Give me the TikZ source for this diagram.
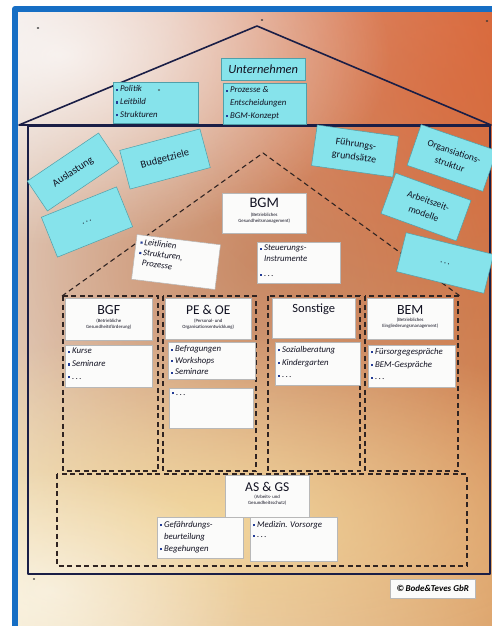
\documentclass[tikz,border=0pt]{standalone}
\usepackage{fontspec}
\setmainfont{Carlito}
\usetikzlibrary{shadings,fadings}
\definecolor{frameblue}{RGB}{22,110,196}
\definecolor{navy}{RGB}{26,30,70}
\definecolor{dashc}{RGB}{48,36,34}
\definecolor{cyancard}{RGB}{134,227,235}
\definecolor{cyanedge}{RGB}{80,160,170}
\definecolor{cardwhite}{RGB}{251,251,250}
\definecolor{ink}{RGB}{18,18,34}
\definecolor{bulc}{RGB}{35,60,150}
\definecolor{pUL}{RGB}{240,236,236}
\definecolor{pUR}{RGB}{222,110,65}
\definecolor{pLL}{RGB}{242,232,212}
\definecolor{pLR}{RGB}{218,158,105}
\definecolor{brownc}{RGB}{180,108,66}
\definecolor{orangec}{RGB}{222,100,55}
\definecolor{yellowc}{RGB}{250,228,160}

\tikzfading[name=softblob, inner color=transparent!0, outer color=transparent!100]

\newcommand{\bul}{\textcolor{bulc}{\rule[0.25ex]{0.5ex}{0.5ex}}\hspace{0.2em}}
\newcommand{\ind}{\phantom{\rule{0.5ex}{0.5ex}}\hspace{0.2em}}
\newcommand{\pdots}{.\,.\,.}

\tikzset{
 cyancd/.style={draw=cyanedge, line width=0.5pt, fill=cyancard, inner sep=0pt, text=ink, align=center},
 whitecd/.style={draw=black!28, line width=0.5pt, fill=cardwhite, inner sep=0pt},
 houseline/.style={draw=navy, line width=1.6pt, line join=round, line cap=round},
 dashbox/.style={draw=dashc, line width=1.1pt, dash pattern=on 5pt off 3.5pt},
 lst/.style={text=ink, font=\fontsize{8.8}{12.8}\selectfont\itshape, align=left, inner sep=0pt, anchor=north west},
 htitle/.style={text=ink, font=\fontsize{14}{16}\selectfont, inner sep=0pt},
 hsub/.style={text=ink, font=\fontsize{4.8}{6.3}\selectfont, align=center, inner sep=0pt},
 pinmark/.style={fill=black!80},
}

\begin{document}
\begin{tikzpicture}[x=1pt,y=-1pt]
\useasboundingbox (0,0) rectangle (492,626);
\fill[white] (0,0) rectangle (492,626);

% paper background
\begin{scope}
\clip (18,12) rectangle (492,626);
\shade[shading=bilinear interpolation, upper left=pUL, upper right=pUR, lower left=pLL, lower right=pLR] (18,12) rectangle (492,626);
\fill[brownc, fill opacity=0.6, path fading=softblob] (260,265) ellipse (520pt and 380pt);
\fill[orangec, fill opacity=0.45, path fading=softblob] (450,90) ellipse (290pt and 250pt);
\fill[yellowc, fill opacity=0.7, path fading=softblob] (210,520) ellipse (460pt and 190pt);
\fill[white, fill opacity=0.75, path fading=softblob] (60,55) ellipse (330pt and 190pt);
\fill[white, fill opacity=0.5, path fading=softblob] (50,590) ellipse (200pt and 120pt);
\end{scope}

% blue frame
\draw[frameblue, line width=6pt, line join=round] (15,632) -- (15,9) -- (498,9);

% house
\draw[houseline] (19,125) -- (257,26) -- (491,125) -- cycle;
\draw[houseline] (28,126) rectangle (490,574);

% dashed inner house
\draw[dashbox] (62,296) -- (263,153) -- (460,296);
\draw[dashbox] (63,296) rectangle (158,471);
\draw[dashbox] (163,296) rectangle (256,471);
\draw[dashbox] (268,296) rectangle (360,471);
\draw[dashbox] (365,296) rectangle (458,471);
\draw[dashbox] (57,474) rectangle (467,566);

% roof cards
\node[cyancd, minimum width=84pt, minimum height=22pt, anchor=north west, font=\fontsize{12.5}{14}\selectfont\itshape] (unt) at (221,58) {Unternehmen};
\node[cyancd, minimum width=85pt, minimum height=41pt, anchor=north west] (pol) at (113,82) {};
\node[lst] (pol-t) at ([shift={(3pt,-3.5pt)}]pol.north west) {\bul Politik\\\bul Leitbild\\\bul Strukturen};
\node[cyancd, minimum width=83pt, minimum height=41pt, anchor=north west] (proz) at (223,83) {};
\node[lst] (proz-t) at ([shift={(3pt,-3.5pt)}]proz.north west) {\bul Prozesse \&\\\ind Entscheidungen\\\bul BGM-Konzept};

% wall cyan cards
\node[cyancd, minimum width=86pt, minimum height=36pt, rotate=34, font=\fontsize{10.5}{12}\selectfont] (ausl) at (73,172) {Auslastung};
\node[cyancd, minimum width=83pt, minimum height=40pt, rotate=15, font=\fontsize{10.5}{12}\selectfont] (budg) at (165,159) {Budgetziele};
\node[cyancd, minimum width=81pt, minimum height=43pt, rotate=22, font=\fontsize{9}{10}\selectfont] (dotsl) at (87,222) {\pdots};
\node[cyancd, minimum width=82pt, minimum height=41pt, rotate=-8, font=\fontsize{10}{13}\selectfont] (fuehr) at (355,151) {Führungs-\\grundsätze};
\node[cyancd, minimum width=80pt, minimum height=43pt, rotate=-19, font=\fontsize{9.5}{13.5}\selectfont] (orga) at (452,158) {Organsiations-\\struktur};
\node[cyancd, minimum width=80pt, minimum height=43pt, rotate=-20, font=\fontsize{9.5}{13.5}\selectfont] (arb) at (426,207) {Arbeitszeit-\\modelle};
\node[cyancd, minimum width=90pt, minimum height=40pt, rotate=-14, font=\fontsize{9}{10}\selectfont] (dotsr) at (445,263) {\pdots};

% BGM
\node[whitecd, minimum width=84pt, minimum height=40pt, anchor=north west] (bgm) at (222,193) {};
\node[htitle, font=\fontsize{14.5}{16}\selectfont] (bgm-t) at ([yshift=-10pt]bgm.north) {BGM};
\node[hsub] (bgm-s) at ([yshift=-25pt]bgm.north) {(Betriebliches\\Gesundheitsmanagement)};

\node[whitecd, minimum width=84pt, minimum height=45pt, rotate=-7] (leit) at (176,262) {};
\node[lst, rotate=-7, font=\fontsize{8.8}{10.5}\selectfont\itshape] (leit-t) at ([shift={(4pt,-4pt)}]leit.north west) {\bul Leitlinien\\\bul Strukturen,\\\ind Prozesse};

\node[whitecd, minimum width=83pt, minimum height=41pt, anchor=north west] (steu) at (257,242) {};
\node[lst, font=\fontsize{8.8}{11}\selectfont\itshape] (steu-t) at ([shift={(3pt,-3pt)}]steu.north west) {\bul Steuerungs-\\\ind Instrumente\\[4pt]\bul\pdots};

% BGF column
\node[whitecd, minimum width=87pt, minimum height=42pt, anchor=north west] (bgfh) at (65,298) {};
\node[htitle] (bgfh-t) at ([yshift=-12pt]bgfh.north) {BGF};
\node[hsub] (bgfh-s) at ([yshift=-26pt]bgfh.north) {(Betriebliche\\Gesundheitsförderung)};
\node[whitecd, minimum width=87pt, minimum height=42pt, anchor=north west] (bgfl) at (65,345) {};
\node[lst] (bgfl-t) at ([shift={(3pt,-3pt)}]bgfl.north west) {\bul Kurse\\\bul Seminare\\\bul\pdots};

% PE & OE column
\node[whitecd, minimum width=86pt, minimum height=41pt, anchor=north west] (peh) at (165,298) {};
\node[htitle, font=\fontsize{13.5}{16}\selectfont] (peh-t) at ([yshift=-12pt]peh.north) {PE \& OE};
\node[hsub] (peh-s) at ([yshift=-26pt]peh.north) {(Personal- und\\Organisationsentwicklung)};
\node[whitecd, minimum width=87pt, minimum height=37pt, anchor=north west] (pel) at (168,342) {};
\node[lst, font=\fontsize{8.8}{11.5}\selectfont\itshape] (pel-t) at ([shift={(3pt,-3.5pt)}]pel.north west) {\bul Befragungen\\\bul Workshops\\\bul Seminare};
\node[whitecd, minimum width=84pt, minimum height=40pt, anchor=north west] (pex) at (169,388) {};
\node[lst] (pex-t) at ([shift={(3pt,-4pt)}]pex.north west) {\bul\pdots};

% Sonstige column
\node[whitecd, minimum width=83pt, minimum height=40pt, anchor=north west] (sonh) at (272,298) {};
\node[htitle, font=\fontsize{12.5}{14}\selectfont] (sonh-t) at ([yshift=-11pt]sonh.north) {Sonstige};
\node[whitecd, minimum width=85pt, minimum height=43pt, anchor=north west] (sonl) at (275,342) {};
\node[lst] (sonl-t) at ([shift={(3pt,-4pt)}]sonl.north west) {\bul Sozialberatung\\\bul Kindergarten\\\bul\pdots};

% BEM column
\node[whitecd, minimum width=86pt, minimum height=41pt, anchor=north west] (bemh) at (367,298) {};
\node[htitle] (bemh-t) at ([yshift=-12pt]bemh.north) {BEM};
\node[hsub] (bemh-s) at ([yshift=-25.5pt]bemh.north) {(Betriebliches\\Eingliederungsmanagement)};
\node[whitecd, minimum width=87pt, minimum height=42pt, anchor=north west] (beml) at (368,345) {};
\node[lst] (beml-t) at ([shift={(3pt,-3pt)}]beml.north west) {\bul Fürsorgegespräche\\\bul BEM-Gespräche\\\bul\pdots};

% AS & GS
\node[whitecd, minimum width=84pt, minimum height=42pt, anchor=north west] (ash) at (225,475) {};
\node[htitle, font=\fontsize{13.5}{16}\selectfont] (ash-t) at ([yshift=-12pt]ash.north) {AS \& GS};
\node[hsub] (ash-s) at ([yshift=-25pt]ash.north) {(Arbeits- und\\Gesundheitsschutz)};
\node[whitecd, minimum width=86pt, minimum height=41pt, anchor=north west] (asl1) at (157,517) {};
\node[lst, font=\fontsize{8.8}{12}\selectfont\itshape] (asl1-t) at ([shift={(3pt,-4pt)}]asl1.north west) {\bul Gefährdungs-\\\ind beurteilung\\\bul Begehungen};
\node[whitecd, minimum width=87pt, minimum height=44pt, anchor=north west] (asl2) at (250,517) {};
\node[lst, font=\fontsize{8.8}{10.5}\selectfont\itshape] (asl2-t) at ([shift={(3pt,-4pt)}]asl2.north west) {\bul Medizin. Vorsorge\\\bul\pdots};

% copyright
\node[whitecd, minimum width=85pt, minimum height=19pt, anchor=north west, text=black, font=\fontsize{9}{10}\selectfont\bfseries\itshape] (copy) at (390,579) {\textcopyright\,Bode\&Teves GbR};

% pins
\fill[pinmark] (38,28) ellipse (1.4pt and 0.8pt);
\fill[pinmark] (262,20) ellipse (1.4pt and 0.8pt);
\fill[pinmark] (487,21) ellipse (1.4pt and 0.8pt);
\fill[pinmark] (34,579) ellipse (1.2pt and 0.8pt);
\fill[pinmark] (159,90) ellipse (1.2pt and 0.7pt);
\end{tikzpicture}
\end{document}
